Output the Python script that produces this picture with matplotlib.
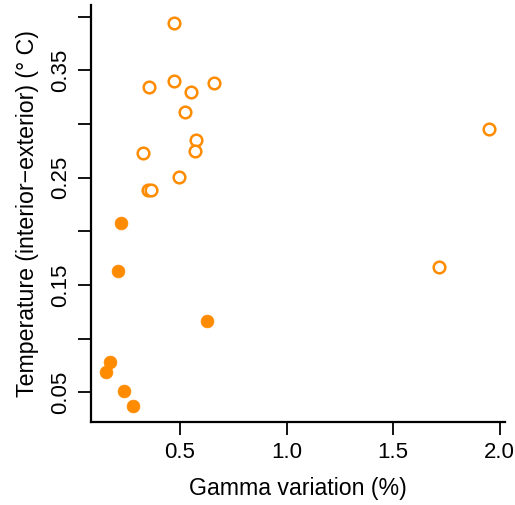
import matplotlib
matplotlib.use("Agg")
from matplotlib import pyplot as plt

# Open circles: one group of measurements
gamma_open = [0.473, 0.356, 0.473, 0.552, 0.658, 0.522, 0.575, 0.572,
              0.326, 0.497, 0.350, 0.365, 1.717, 1.949]
temp_open = [0.3947, 0.3346, 0.3400, 0.3300, 0.3386, 0.3110, 0.2848, 0.2748,
             0.2732, 0.2508, 0.2383, 0.2383, 0.1667, 0.2956]

# Filled circles: the other group
gamma_filled = [0.226, 0.210, 0.628, 0.173, 0.153, 0.239, 0.282]
temp_filled = [0.2081, 0.1629, 0.1165, 0.0779, 0.0689, 0.0511, 0.0367]

x_ticks = [0.5, 1.0, 1.5, 2.0]
x_labels = ["0.5", "1.0", "1.5", "2.0"]
y_ticks = [0.05, 0.10, 0.15, 0.20, 0.25, 0.30, 0.35, 0.40]
y_labels = ["0.05", "", "0.15", "", "0.25", "", "0.35", ""]

plt.rcParams['font.family'] = ['Liberation Sans', 'DejaVu Sans']

fig = plt.figure(figsize=(5.15, 5.05), dpi=100)
ax = fig.add_axes([0.177, 0.164, 0.803, 0.826])

orange = '#ff8c00'
ax.scatter(gamma_open, temp_open, s=70, facecolors='white',
           edgecolors=orange, linewidths=1.8, zorder=3)
ax.scatter(gamma_filled, temp_filled, s=85, color=orange,
           edgecolors=orange, linewidths=0.5, zorder=3)

ax.set_xlim(0.084, 2.023)
ax.set_ylim(0.022, 0.411)

# R-style "L" box
ax.spines['top'].set_visible(False)
ax.spines['right'].set_visible(False)
for s in ['left', 'bottom']:
    ax.spines[s].set_linewidth(1.6)

ax.set_xticks(x_ticks)
ax.set_xticklabels(x_labels)
ax.set_yticks(y_ticks)
ax.set_yticklabels(y_labels, rotation=90, va='center')
ax.tick_params(axis='both', length=9.5, width=1.3, labelsize=16, pad=5)

ax.set_xlabel("Gamma variation (%)", fontsize=16.7, labelpad=10)
ax.set_ylabel("Temperature (interior\u2212exterior) (\u00b0 C)", fontsize=16.7,
              labelpad=8)

fig.savefig("out.png", dpi=100)
